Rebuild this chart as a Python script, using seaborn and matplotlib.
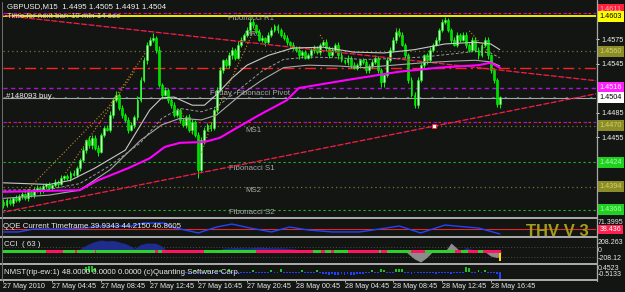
import numpy as np
import matplotlib
matplotlib.use("Agg")
import matplotlib.pyplot as plt
from matplotlib.lines import Line2D
import seaborn as sns

W, H = 625, 292
BG = "#121512"

# ------------------------------------------------------------------ data
closes = [
    1.4372, 1.4378, 1.4374, 1.4380, 1.4378, 1.4383, 1.4385, 1.4380, 1.4388, 1.4384,
    1.4390, 1.4393, 1.4389, 1.4395, 1.4397, 1.4393, 1.4396, 1.4400, 1.4398, 1.4405,
    1.4407, 1.4405, 1.4411, 1.4409, 1.4417, 1.4427, 1.4439, 1.4451, 1.4445, 1.4454,
    1.4442, 1.4437, 1.4458, 1.4466, 1.4464, 1.4482, 1.4500, 1.4507, 1.4491, 1.4482,
    1.4476, 1.4464, 1.4470, 1.4479, 1.4500, 1.4525, 1.4549, 1.4568, 1.4574, 1.4576,
    1.4562, 1.4519, 1.4507, 1.4513, 1.4500, 1.4494, 1.4482, 1.4488, 1.4476, 1.4470,
    1.4479, 1.4464, 1.4474, 1.4458, 1.4415, 1.4451, 1.4464, 1.4470, 1.4466, 1.4488,
    1.4513, 1.4537, 1.4549, 1.4543, 1.4555, 1.4562, 1.4552, 1.4568, 1.4574, 1.4580,
    1.4586, 1.4596, 1.4592, 1.4584, 1.4574, 1.4576, 1.4571, 1.4580, 1.4586, 1.4591,
    1.4586, 1.4580, 1.4576, 1.4571, 1.4568, 1.4564, 1.4562, 1.4555, 1.4559, 1.4552,
    1.4555, 1.4562, 1.4564, 1.4559, 1.4568, 1.4571, 1.4564, 1.4555, 1.4562, 1.4568,
    1.4555, 1.4549, 1.4547, 1.4552, 1.4543, 1.4540, 1.4543, 1.4549, 1.4547, 1.4537,
    1.4542, 1.4547, 1.4552, 1.4537, 1.4522, 1.4531, 1.4549, 1.4562, 1.4574, 1.4584,
    1.4580, 1.4568, 1.4555, 1.4525, 1.4507, 1.4494, 1.4525, 1.4543, 1.4555, 1.4549,
    1.4562, 1.4568, 1.4574, 1.4586, 1.4596, 1.4598, 1.4586, 1.4574, 1.4568, 1.4580,
    1.4574, 1.4580, 1.4568, 1.4562, 1.4574, 1.4562, 1.4555, 1.4568, 1.4574, 1.4555,
    1.4537, 1.4525, 1.4495, 1.4504]
first_open = 1.4376
wick_up = [
    3, 2, 3, 2, 4, 2, 3, 2, 3, 2, 4, 3, 2, 3, 2, 3, 2, 4, 2, 3,
    2, 3, 2, 4, 3, 3, 4, 2, 5, 3, 4, 3, 2, 3, 4, 5, 3, 4, 2, 3,
    2, 3, 4, 3, 5, 3, 4, 3, 4, 6, 3, 4, 2, 3, 2, 3, 4, 2, 3, 2,
    3, 4, 3, 2, 3, 4, 3, 2, 4, 3, 3, 4, 2, 3, 4, 3, 2, 4, 3, 2,
    4, 5, 3, 2, 3, 4, 2, 3, 4, 2, 3, 2, 3, 4, 2, 3, 2, 4, 3, 2,
    3, 2, 4, 3, 2, 3, 4, 2, 3, 2, 3, 4, 2, 3, 2, 4, 3, 2, 3, 4,
    2, 3, 4, 2, 3, 3, 4, 3, 4, 3, 4, 3, 2, 3, 4, 3, 4, 3, 2, 3,
    3, 2, 4, 3, 4, 4, 3, 2, 4, 3, 2, 3, 4, 2, 3, 4, 3, 2, 3, 4,
    2, 3, 2, 1]
wick_dn = [
    4, 3, 2, 3, 2, 3, 4, 2, 3, 2, 3, 2, 4, 2, 3, 2, 3, 2, 4, 2,
    3, 2, 4, 2, 3, 3, 2, 4, 3, 4, 3, 5, 2, 3, 2, 3, 4, 2, 3, 4,
    3, 4, 2, 4, 3, 2, 3, 4, 2, 3, 4, 3, 5, 2, 3, 4, 3, 2, 4, 3,
    4, 3, 5, 3, 10, 3, 4, 2, 3, 2, 3, 2, 4, 2, 3, 4, 3, 2, 3, 2,
    3, 2, 4, 3, 2, 3, 4, 2, 3, 2, 4, 3, 2, 3, 4, 2, 3, 4, 3, 2,
    2, 3, 4, 2, 3, 2, 4, 3, 2, 3, 4, 2, 3, 4, 3, 2, 3, 4, 2, 3,
    3, 2, 3, 4, 6, 6, 3, 2, 3, 4, 3, 2, 3, 4, 3, 4, 3, 2, 3, 4,
    2, 3, 2, 4, 3, 2, 3, 4, 2, 3, 3, 2, 4, 3, 2, 3, 4, 2, 3, 4,
    3, 4, 3, 4]

# moving averages (vertices)
ma_x = [0, 25, 31, 41, 48, 53, 58, 66, 71, 77, 84, 93, 97, 113, 130, 143, 156, 160, 163]
ma_y = [1.4388, 1.4390, 1.4402, 1.4417, 1.4429, 1.4443, 1.4448, 1.4449, 1.4454, 1.4467,
        1.4482, 1.4500, 1.4515, 1.4525, 1.4535, 1.4540, 1.4543, 1.4546, 1.4540]
envA_x = [0, 15, 22, 30, 40, 48, 52, 56, 62, 66, 70, 75, 80, 87, 95, 105, 115, 125, 135, 145, 155, 160, 163]
envA_y = [1.4399, 1.4397, 1.4402, 1.4417, 1.4439, 1.4488, 1.4503, 1.4504, 1.4494, 1.4494, 1.4507,
          1.4527, 1.4543, 1.4555, 1.4564, 1.4565, 1.4559, 1.4558, 1.4562, 1.4569, 1.4571, 1.4569, 1.4562]
envB_x = [0, 15, 25, 35, 45, 52, 58, 65, 70, 78, 85, 92, 100, 110, 118, 128, 138, 148, 155, 160, 163]
envB_y = [1.4380, 1.4384, 1.4390, 1.4415, 1.4451, 1.4470, 1.4478, 1.4476, 1.4482, 1.4507, 1.4525,
          1.4540, 1.4543, 1.4542, 1.4540, 1.4543, 1.4546, 1.4548, 1.4549, 1.4547, 1.4542]
envC_y = [1.4390, 1.4391, 1.4398, 1.4420, 1.4448, 1.4478, 1.4490, 1.4486, 1.4492, 1.4515, 1.4536,
          1.4550, 1.4553, 1.4552, 1.4550, 1.4551, 1.4553, 1.4557, 1.4560, 1.4558, 1.4552]
orange_x = [7, 34.5, 46.6, np.nan, 20.4, 43.3, np.nan, 58, 62, np.nan, 65, 69.6, 82.8, np.nan,
            104, 106, np.nan, 129, 131, np.nan, 153, 159]
orange_y = [1.4387, 1.4492, 1.4558, np.nan, 1.4411, 1.4537, np.nan, 1.4488, 1.4460, np.nan,
            1.4436, 1.4484, 1.4590, np.nan, 1.4580, 1.4568, np.nan, 1.4588, 1.4577, np.nan, 1.4585, 1.4560]

# trend lines
trend_x = [-0.2, 194.6]
trend_desc = [1.4604, 1.4524]
trend_asc = [1.4363, 1.4508]
marker_x, marker_y = 141.4, 1.4469

# horizontal levels
level_prices = [1.4607, 1.4603, 1.4560, 1.4540, 1.4515, 1.4503, 1.4473, 1.4469, 1.4424, 1.4394, 1.4366]
level_kinds = ["redpurple", "yellow", "olive", "red", "purple", "order", "redpurple",
               "olive", "green", "olive", "green"]

# right price scale
tick_prices = [1.4575, 1.4545, 1.4485, 1.4455]
tag_prices = [1.4611, 1.4603, 1.4560, 1.4516, 1.4504, 1.4469, 1.4424, 1.4394, 1.4366]
tag_texts = ["1.4611", "1.4603", "1.4560", "1.4516", "1.4504", "1.4470", "1.4424", "1.4394", "1.4366"]
tag_bg = ["#ff2040", "#ffff00", "#8c8c28", "#ff20ff", "#ffffff", "#8c8c28", "#20d020", "#8c8c28", "#20d020"]
tag_fg = ["#ffb0b0", "#000000", "#d4d468", "#ffffff", "#000000", "#d4d468", "#a8ffa8", "#d4d468", "#a8ffa8"]

# QQE
qqe_x = [0, 5, 10, 20, 27, 32, 42, 46, 53, 55, 64, 70, 75, 81, 88, 94, 100, 108, 117, 130, 137, 145, 152, 156, 163]
qqe_v = [26, 26, 41, 41, 46, 56, 56, 71, 71, 51, 21, 51, 66, 46, 26, 51, 36, 26, 26, 56, 21, 61, 51, 46, 16]
qqe_level = 38.436

# CCI
cci_pos_x = [0, 24, 26, 28, 30, 32, 34, 36, 38, 40, 42, 43, 45, 47, 50, 52, 54, 70, 72, 76, 80, 84,
             88, 92, 96, 98, 150, 152, 154, 155, 163]
cci_pos_v = [0, 0, 90, 150, 200, 230, 210, 220, 190, 160, 100, 60, 140, 170, 165, 110, 0, 0, 60, 80,
             70, 90, 75, 70, 50, 0, 0, 80, 40, 0, 0]
cci_neg_x = [132, 135, 137, 139, 141, 145, 147, 149, 150, 158, 160, 162, 163, 163.4]
cci_neg_v = [0, -150, -210, -120, 0, 0, 170, 60, 0, 0, -90, -120, -110, 0]
cci_last = -190
band_start = [-0.3, 14.1, 19.7, 23.6, 24.0, 30.2, 30.5, 49.9, 50.9, 51.9, 65.7, 82.8, 101.8, 104.4,
              105.7, 107.7, 108.4, 113.3, 123.2, 124.1, 125.8, 133.7, 138.6, 148.4, 150.4, 152.7, 156.0, 157.6]
band_end = band_start[1:] + [163.5]
band_state = ["g", "r"] * 14

# NMST
nmst_x = [27, 28, 29, 30] + list(range(60, 164))
nmst_v = [0.5, 0.6, 0.55, 0.4,
          -0.08, -0.1, -0.08, 0.2, -0.1, -0.08, -0.1, 0.15, -0.08, -0.1, -0.1, 0.2, -0.08, -0.08, 0.25, -0.1, -0.08, -0.1, -0.08, -0.1,
          -0.08, -0.1, 0.15, -0.08, -0.1, -0.08, -0.1, -0.08, 0.2, -0.1, -0.08, 0.25, -0.1, -0.08, -0.1, -0.08, -0.1, -0.12, 0.2, -0.1,
          -0.1, -0.08, -0.1, 0.18, -0.1, -0.15, -0.2, -0.25, -0.2, -0.25, -0.3, -0.2, -0.25, -0.2, -0.25, -0.3, -0.2, -0.2, -0.15, -0.1,
          -0.1, 0.2, -0.1, -0.08, 0.25, 0.22, -0.1, -0.08, -0.1, 0.3, 0.3, 0.25, -0.1, -0.12, -0.15, -0.1, -0.12, -0.1, -0.12, -0.1,
          -0.12, -0.1, -0.15, -0.12, -0.1, -0.12, -0.1, -0.15, -0.12, -0.1, -0.12, -0.1, 0.45, 0.4, -0.1, -0.08, 0.15, -0.1, 0.15, -0.08,
          -0.1, -0.12, -0.15, -0.65]

time_ticks = [0, 16, 32, 48, 64, 80, 96, 112, 128, 144, 160]
time_labels = ["27 May 2010", "27 May 04:45", "27 May 08:45", "27 May 12:45", "27 May 16:45",
               "27 May 20:45", "28 May 00:45", "28 May 04:45", "28 May 08:45", "28 May 12:45",
               "28 May 16:45"]

# ------------------------------------------------------------------ style
sns.set_theme(style="dark", rc={"axes.facecolor": BG, "figure.facecolor": BG})
plt.rcParams["font.family"] = ["Liberation Sans", "DejaVu Sans"]

fig = plt.figure(figsize=(W / 100, H / 100), dpi=100, facecolor=BG)


def rect(top, bottom, left=3, right=596):
    return [left / W, 1 - bottom / H, (right - left) / W, (bottom - top) / H]


ax = fig.add_axes(rect(3, 216))
ax_q = fig.add_axes(rect(219, 235))
ax_c = fig.add_axes(rect(238, 263))
ax_n = fig.add_axes(rect(265, 279))
for a in (ax, ax_q, ax_c, ax_n):
    a.set_facecolor(BG)
    a.set_xlim(-0.16, 194.6)
    for s in a.spines.values():
        s.set_visible(False)
    a.tick_params(left=False, bottom=False, right=False, labelleft=False, labelbottom=False)
    a.grid(False)

ax.set_ylim(1.43584, 1.46191)
ax_q.set_ylim(10.5, 91.7)
ax_c.set_ylim(-230, 270)
ax_n.set_ylim(-0.65, 0.65)


def ftext(x, y, s, color="#e8e8e8", axis=None, z=2, size=5.7, **kw):
    a = axis if axis is not None else ax
    a.text(x / W, 1 - y / H, s, transform=fig.transFigure, color=color, ha="left",
           va="center", zorder=z, clip_on=False, fontsize=size, **kw)


# ---- horizontal levels
for p, k in zip(level_prices, level_kinds):
    if k == "yellow":
        ax.axhline(p, color="#ffff00", lw=1.3, zorder=2)
    elif k == "olive":
        ax.axhline(p, color="#77772e", lw=0.9, ls=(0, (1, 2.5)), zorder=2)
    elif k == "red":
        ax.axhline(p, color="#ff2020", lw=1.0, ls=(0, (8, 3, 1.5, 3)), zorder=2)
    elif k == "purple":
        ax.axhline(p, color="#b010e0", lw=1.0, ls=(0, (3, 2.5)), zorder=2)
    elif k == "order":
        ax.axhline(p, color="#a8a8a8", lw=0.8, zorder=2)
        ax.axhline(p + 0.00005, color="#4a7a8a", lw=0.8, ls=(0, (2, 9)), zorder=2)
    elif k == "green":
        ax.axhline(p, color="#22b822", lw=0.8, ls=(0, (2, 2.5)), zorder=2)
    elif k == "redpurple":
        ax.axhline(p, color="#a010d0", lw=0.9, ls=(0, (3, 5)), zorder=2)
        ax.axhline(p, color="#ff2020", lw=0.9, ls=(4, (2, 6)), zorder=2)

# ---- level texts
ftext(228, 18, "Fibonacci R1", color="#a8a8a8")
ftext(244, 34, "MR1", color="#a8a8a8")
ftext(210, 93, "Friday  Fibonacci Pivot", color="#a8a8a8")
ftext(6, 96, "#148093 buy", color="#e8e8e8")
ftext(245, 130, "MS1", color="#a8a8a8")
ftext(229, 168, "Fibonacci S1", color="#a8a8a8")
ftext(245, 191, "MS2", color="#a8a8a8")
ftext(229, 213, "Fibonacci S2", color="#a8a8a8")
ftext(7, 7, "GBPUSD,M15  1.4495 1.4505 1.4491 1.4504", color="#f0f0f0", z=9)
ftext(7, 16, "Time for next bar: 10 min 14 sec", color="#e0d0d0", z=9)

# ---- trend lines
ax.plot(trend_x, trend_desc, color="#9010c0", lw=0.9, ls=(0, (2, 4)), zorder=4)
ax.plot(trend_x, trend_desc, color="#ff2020", lw=0.9, ls=(3, (4, 2)), zorder=4)
ax.plot(trend_x, trend_asc, color="#9010c0", lw=0.9, ls=(0, (2, 4)), zorder=4)
ax.plot(trend_x, trend_asc, color="#ff2020", lw=0.9, ls=(3, (4, 2)), zorder=4)
ax.plot([marker_x], [marker_y], marker="s", ms=2.6, mfc="white", mec="#ff2020", mew=0.6, zorder=8)

# ---- candles
c = np.array(closes)
o = np.array([first_open] + closes[:-1])
hi = np.maximum(o, c) + np.array(wick_up) * 1e-4
lo = np.minimum(o, c) - np.array(wick_dn) * 1e-4
xb = np.arange(len(c))
ax.vlines(xb, lo, hi, color="#00ff00", lw=0.7, zorder=3)
bull = c >= o
body = np.maximum(np.abs(c - o), 0.00006)
bot = np.minimum(o, c)
ax.bar(xb[bull], body[bull], bottom=bot[bull], width=0.62, color="#c8ffc8",
       edgecolor="#00ff00", linewidth=0.4, zorder=3.5)
ax.bar(xb[~bull], body[~bull], bottom=bot[~bull], width=0.62, color="#00dd00",
       edgecolor="#00ff00", linewidth=0.4, zorder=3.5)

# ---- indicator lines
sns.lineplot(x=envA_x, y=envA_y, ax=ax, color="#c8c8c8", lw=0.8, zorder=5)
sns.lineplot(x=envB_x, y=envB_y, ax=ax, color="#a8a8a8", lw=0.8, zorder=5)
sns.lineplot(x=envB_x, y=envC_y, ax=ax, color="#9a9a9a", lw=0.7, ls=(0, (3, 2)), zorder=5)
ax.plot(orange_x, orange_y, color="#c88a20", lw=0.8, ls=(0, (1, 1.8)), zorder=5)
sns.lineplot(x=ma_x, y=ma_y, ax=ax, color="#ff00ff", lw=1.5, zorder=6)
ax.set_xlabel("")
ax.set_ylabel("")

# ---- right price scale
ax.yaxis.set_ticks_position("right")
ax.set_yticks(tick_prices)
ax.set_yticklabels([f"{p:.4f}" for p in tick_prices])
ax.tick_params(axis="y", right=True, labelright=True, length=2.5, width=0.7,
               colors="#f0f0f0", labelsize=5.2, pad=1.5)
for p, s, bg, fg in zip(tag_prices, tag_texts, tag_bg, tag_fg):
    ax.text(1.006, p, s, transform=ax.get_yaxis_transform(), ha="left", va="center",
            fontsize=5.2, color=fg, clip_on=False, zorder=10,
            bbox=dict(boxstyle="square,pad=0.28", fc=bg, ec="none"))

# ---- QQE panel
sns.lineplot(x=qqe_x, y=qqe_v, ax=ax_q, color="#2244ff", lw=1.0, zorder=3)
ax_q.axhline(qqe_level, color="#e02828", lw=0.8, zorder=2)
ax_q.set_xlabel("")
ax_q.set_ylabel("")
ftext(3, 226, "QQE Current Timeframe 39.9343 44.2150 46.8605", axis=ax_q, z=6)
ftext(598, 222.5, "71.3995", axis=ax_q, z=6, size=5.0)
ax_q.text(1.006, qqe_level, "38.436", transform=ax_q.get_yaxis_transform(), ha="left",
          va="center", fontsize=5.0, color="#ffffff", clip_on=False, zorder=10,
          bbox=dict(boxstyle="square,pad=0.2", fc="#ff2050", ec="none"))

# ---- CCI panel
ax_c.axhline(100, color="#4a4a4a", lw=0.7, ls=(0, (1, 2)))
ax_c.axhline(-100, color="#4a4a4a", lw=0.7, ls=(0, (1, 2)))
ax_c.fill_between(cci_pos_x, 0, cci_pos_v, color="#1e2c8c", lw=0, zorder=2)
ax_c.fill_between(cci_neg_x, 0, cci_neg_v, color="#8c8c8c", lw=0, zorder=2)
ax_c.bar([163], [cci_last], width=0.7, color="#ffe000", edgecolor="none", linewidth=0, zorder=2.5)
g_ranges = [(s, e - s) for s, e, st in zip(band_start, band_end, band_state) if st == "g"]
r_ranges = [(s, e - s) for s, e, st in zip(band_start, band_end, band_state) if st == "r"]
ax_c.broken_barh(g_ranges, (-35, 70), facecolors="#2ed02e", edgecolors="none", linewidth=0, zorder=3)
ax_c.broken_barh(r_ranges, (-35, 70), facecolors="#ff1464", edgecolors="none", linewidth=0, zorder=3)
ftext(4, 244, "CCI  ( 63 )", axis=ax_c, z=6)
for yy, s in [(242, "208.263"), (250.5, "0"), (258, "-208.12")]:
    ftext(598, yy, s, axis=ax_c, z=6, size=5.0)

# ---- NMST panel
cols = ["#2040ff" if v < 0 else "#20c020" for v in nmst_v]
ax_n.bar(nmst_x, nmst_v, width=0.62, color=cols, edgecolor="none", linewidth=0, zorder=2)
ftext(4, 272, "NMST(rip-ew:1) 48.0000 0.0000 0.0000 (c)Quanting Software Corp.", axis=ax_n, z=6)
for yy, s in [(268.5, "0.4523"), (275, "-0.5133")]:
    ftext(598, yy, s, axis=ax_n, z=6, size=5.0)

# ---- time axis
ax_n.set_xticks(time_ticks)
ax_n.set_xticklabels(time_labels)
ax_n.tick_params(axis="x", bottom=True, labelbottom=True, length=2, width=0.7,
                 color="#c0c0c0", labelcolor="#e8e8e8", labelsize=5.2, pad=0.8)
for lab in ax_n.get_xticklabels():
    lab.set_ha("left")
ax_n.set_xlabel("")
ax_n.set_ylabel("")

# ---- THV watermark
fig.text(526 / W, 1 - 231 / H, "THV V 3", color="#a49c1c", fontsize=12, fontweight="bold",
         ha="left", va="center", zorder=20)

# ---- separators / borders
SEP = "#a8a8a8"


def hsep(y, lw=1.44):
    fig.add_artist(Line2D([0, 596.5 / W], [1 - y / H, 1 - y / H], transform=fig.transFigure,
                          color=SEP, lw=lw))


for yy in (217.5, 236.5, 264, 280):
    hsep(yy)
fig.add_artist(Line2D([596.5 / W, 596.5 / W], [1 - 281 / H, 1.0], transform=fig.transFigure,
                      color=SEP, lw=0.9))
fig.add_artist(Line2D([1.8 / W, 1.8 / W], [1 - 280 / H, 1 - 2 / H], transform=fig.transFigure,
                      color="#707070", lw=0.7))

fig.savefig("out.png", dpi=100, facecolor=BG)
